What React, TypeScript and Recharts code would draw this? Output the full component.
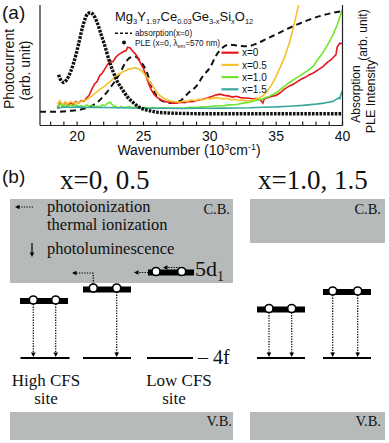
import React from 'react';
import { LineChart, Line, XAxis, YAxis, ComposedChart, ReferenceArea, ReferenceLine, Scatter } from 'recharts';

const SANS = '"Liberation Sans", Arial, sans-serif';
const SERIF = '"Liberation Serif", "Times New Roman", serif';

// ---------- panel (a) data ----------
const xTicks = [18, 19, 20, 21, 22, 23, 24, 25, 26, 27, 28, 29, 30, 31, 32, 33, 34, 35, 36, 37, 38, 39, 40];
const xLabelTicks = [20, 25, 30, 35, 40];
const yTicks = [0, 1, 2, 3, 4, 5, 6, 7];

const toPts = (a: number[][]) => a.map(([w, v]) => ({ w, v }));

const absorption = toPts([
  [17.2, 0.8], [18.5, 0.8], [19.0, 0.82], [19.5, 0.85], [20.2, 0.92], [21.0, 1.1], [21.6, 1.4], [22.1, 1.8],
  [22.6, 2.3], [23.2, 3.0], [23.6, 3.6], [24.0, 3.95], [24.4, 4.0], [24.8, 3.7], [25.2, 3.2], [25.6, 2.3],
  [26.0, 1.7], [26.5, 1.4], [27.2, 1.3], [27.8, 1.45], [28.4, 1.9], [29.0, 2.3], [29.5, 2.9], [30.0, 3.35],
  [30.5, 4.1], [31.0, 4.55], [31.5, 4.7], [32.0, 4.65], [32.8, 4.6], [33.5, 4.75], [34.2, 5.0], [35.0, 5.3],
  [35.8, 5.6], [36.7, 5.9], [37.5, 6.15], [38.5, 6.4], [39.3, 6.55], [40.0, 6.65],
]);

const ple = toPts([
  [18.6, 2.95], [18.8, 2.6], [19.0, 2.5], [19.2, 2.65], [19.5, 3.1], [19.8, 3.8], [20.1, 4.7], [20.4, 5.7],
  [20.6, 6.2], [20.8, 6.5], [21.0, 6.55], [21.2, 6.45], [21.5, 6.0], [21.8, 5.3], [22.1, 4.6], [22.4, 3.8],
  [22.7, 3.15], [23.0, 2.6], [23.4, 2.1], [23.8, 1.65], [24.2, 1.35], [24.6, 1.1], [25.0, 0.95], [25.5, 0.85],
  [26.0, 0.78], [27.0, 0.72], [28.0, 0.7], [30.0, 0.68], [32.0, 0.68], [35.0, 0.68], [38.0, 0.68], [40.0, 0.68],
]);

const pcX00 = toPts([
  [18.5, 1.0], [18.7, 1.3], [18.9, 1.15], [19.1, 1.35], [19.3, 1.2], [19.5, 1.3], [19.7, 1.25], [19.9, 1.4],
  [20.1, 1.3], [20.3, 1.45], [20.5, 1.4], [20.7, 1.6], [20.9, 1.75], [21.1, 2.1], [21.3, 2.4], [21.5, 2.55],
  [21.7, 2.9], [21.9, 3.05], [22.1, 3.3], [22.3, 3.55], [22.5, 3.75], [22.7, 3.7], [22.9, 3.95], [23.1, 4.1],
  [23.3, 4.2], [23.5, 4.3], [23.7, 4.35], [23.8, 4.55], [24.0, 4.5], [24.2, 4.3], [24.4, 4.15], [24.6, 3.9],
  [24.8, 3.6], [25.0, 3.3], [25.2, 2.85], [25.4, 2.4], [25.6, 2.05], [25.8, 1.8], [26.0, 1.65], [26.3, 1.5],
  [26.6, 1.4], [26.9, 1.35], [27.2, 1.3], [27.5, 1.3], [27.8, 1.35], [28.1, 1.32], [28.4, 1.4], [28.7, 1.38],
  [29.0, 1.45], [29.3, 1.5], [29.6, 1.55], [29.9, 1.62], [30.2, 1.7], [30.5, 1.78], [30.8, 1.82], [31.1, 1.75],
  [31.4, 1.72], [31.7, 1.65], [32.0, 1.7], [32.3, 1.62], [32.6, 1.6], [32.9, 1.58], [33.2, 1.55], [33.5, 1.57],
  [33.8, 1.5], [34.0, 1.3], [34.1, 1.55], [34.4, 1.62], [34.7, 1.7], [35.0, 1.75], [35.3, 1.9], [35.6, 2.1],
  [36.0, 2.3], [36.3, 2.4], [36.6, 2.55], [36.9, 2.7], [37.2, 2.8], [37.5, 2.95], [37.8, 3.05], [38.1, 3.2],
  [38.3, 3.3], [38.5, 3.4], [38.7, 3.55], [38.9, 3.7], [39.1, 3.8], [39.3, 3.95], [39.5, 4.1], [39.6, 4.55],
  [39.8, 4.78], [40.0, 4.75],
]);

const pcX05 = toPts([
  [18.5, 1.25], [18.7, 1.45], [18.9, 1.2], [19.1, 1.35], [19.3, 1.25], [19.5, 1.4], [19.7, 1.3], [19.9, 1.35],
  [20.1, 1.3], [20.3, 1.4], [20.5, 1.45], [20.7, 1.5], [20.9, 1.6], [21.1, 1.7], [21.3, 1.85], [21.5, 1.95],
  [21.7, 2.1], [21.9, 2.2], [22.1, 2.3], [22.3, 2.45], [22.5, 2.55], [22.7, 2.7], [22.9, 2.85], [23.1, 2.95],
  [23.3, 3.05], [23.5, 3.15], [23.7, 3.2], [23.9, 3.3], [24.1, 3.3], [24.3, 3.35], [24.5, 3.32], [24.7, 3.25],
  [24.9, 3.15], [25.1, 2.95], [25.3, 2.75], [25.5, 2.5], [25.7, 2.3], [25.9, 2.05], [26.1, 1.85], [26.3, 1.7],
  [26.5, 1.6], [26.8, 1.5], [27.1, 1.4], [27.4, 1.38], [27.7, 1.35], [28.0, 1.42], [28.3, 1.4], [28.6, 1.48],
  [28.9, 1.45], [29.2, 1.52], [29.5, 1.5], [29.8, 1.58], [30.1, 1.55], [30.4, 1.62], [30.7, 1.6], [31.0, 1.55],
  [31.3, 1.58], [31.6, 1.48], [31.9, 1.52], [32.2, 1.45], [32.5, 1.48], [32.8, 1.42], [33.1, 1.46], [33.4, 1.52],
  [33.7, 1.6], [34.0, 1.72], [34.3, 1.95], [34.6, 2.3], [34.9, 2.7], [35.2, 3.2], [35.6, 3.9], [36.0, 4.8],
  [36.3, 5.7], [36.6, 6.7], [36.9, 7.7], [37.2, 8.6],
]);

const pcX10 = toPts([
  [18.5, 1.1], [18.7, 1.25], [18.9, 1.15], [19.1, 1.2], [19.3, 1.1], [19.5, 1.18], [19.7, 1.12], [19.9, 1.22],
  [20.1, 1.1], [20.3, 1.15], [20.5, 1.08], [20.7, 1.2], [20.9, 1.12], [21.1, 1.18], [21.3, 1.05], [21.5, 1.12],
  [21.7, 1.08], [21.9, 1.2], [22.1, 1.15], [22.3, 1.3], [22.5, 1.35], [22.7, 1.15], [22.9, 1.1], [23.1, 1.02],
  [23.3, 1.1], [23.6, 1.05], [23.9, 1.1], [24.2, 1.03], [24.5, 1.08], [24.8, 1.02], [25.1, 1.06], [25.4, 1.0],
  [25.7, 1.04], [26.0, 1.0], [26.5, 1.03], [27.0, 1.0], [27.5, 1.02], [28.0, 1.0], [28.5, 1.05], [29.0, 1.04],
  [29.5, 1.08], [30.0, 1.1], [30.5, 1.15], [31.0, 1.15], [31.5, 1.2], [32.0, 1.22], [32.5, 1.3], [33.0, 1.35],
  [33.5, 1.45], [34.0, 1.55], [34.5, 1.7], [35.0, 1.9], [35.5, 2.2], [36.0, 2.5], [36.5, 2.75], [37.0, 3.0],
  [37.4, 3.2], [37.8, 3.45], [38.1, 3.8], [38.4, 4.1], [38.7, 4.45], [39.0, 4.85], [39.3, 5.3], [39.6, 5.85],
  [39.8, 6.3], [40.0, 6.75],
]);

const pcX15 = toPts([
  [18.5, 1.0], [19.0, 1.08], [19.5, 1.05], [20.0, 1.08], [20.5, 1.05], [21.0, 1.06], [22.0, 1.05], [23.0, 1.03],
  [24.0, 1.02], [25.0, 1.0], [26.0, 1.0], [27.0, 1.0], [28.0, 0.99], [29.0, 1.0], [30.0, 1.0], [31.0, 1.01],
  [32.0, 1.02], [33.0, 1.03], [34.0, 1.06], [35.0, 1.08], [36.0, 1.12], [37.0, 1.17], [38.0, 1.24], [38.6, 1.3],
  [39.0, 1.36], [39.3, 1.4], [39.5, 1.5], [39.7, 1.6], [39.8, 1.55], [39.9, 1.85], [40.0, 2.0],
]);

const pcSeries = [
  { name: 'x=0', color: '#e8161d', data: pcX00 },
  { name: 'x=0.5', color: '#f5c12a', data: pcX05 },
  { name: 'x=1.0', color: '#6ee62a', data: pcX10 },
  { name: 'x=1.5', color: '#3aa8a0', data: pcX15 },
];

// ---------- panel (b) data (diagram units: x = site position, y = energy) ----------
const bands = [
  { label: 'C.B.', x1: 10, x2: 233, y1: 160, y2: 244 },
  { label: 'C.B.', x1: 250, x2: 385, y1: 200, y2: 244 },
  { label: 'V.B.', x1: 10, x2: 233, y1: 3, y2: 31 },
  { label: 'V.B.', x1: 250, x2: 385, y1: 3, y2: 31 },
];
const levels5d = [
  { x1: 20, x2: 68, e: 142 },
  { x1: 83, x2: 131, e: 153.5 },
  { x1: 148, x2: 194, e: 170.5 },
  { x1: 257, x2: 305, e: 133.5 },
  { x1: 323, x2: 371, e: 151 },
];
const levels4f = [
  { x1: 20.5, x2: 69.5 },
  { x1: 83, x2: 131 },
  { x1: 147, x2: 193 },
  { x1: 257, x2: 305 },
  { x1: 323, x2: 371 },
];
const e4f = 85;
const electrons = [
  { x: 33.3, y: 143 }, { x: 55.7, y: 143 },
  { x: 93.3, y: 155 }, { x: 116.7, y: 155 },
  { x: 156, y: 171.5 }, { x: 181.7, y: 171.5 },
  { x: 269, y: 134.5 }, { x: 291.7, y: 134.5 },
  { x: 332.7, y: 152 }, { x: 357.7, y: 152 },
];
const dottedArrows = [
  { x1: 33.3, y1: 139, x2: 33.3, y2: 89 },
  { x1: 55.7, y1: 139, x2: 55.7, y2: 89 },
  { x1: 116.7, y1: 151, x2: 116.7, y2: 89 },
  { x1: 269, y1: 130.5, x2: 269, y2: 89 },
  { x1: 291.7, y1: 130.5, x2: 291.7, y2: 89 },
  { x1: 332.7, y1: 148, x2: 332.7, y2: 89 },
  { x1: 357.7, y1: 148, x2: 357.7, y2: 89 },
  { x1: 93.3, y1: 159, x2: 93.3, y2: 170 },
  { x1: 93.3, y1: 170, x2: 75, y2: 170 },
  { x1: 151, y1: 170.5, x2: 137, y2: 170.5 },
  { x1: 180, y1: 175.5, x2: 166, y2: 175.5 },
  { x1: 33, y1: 236, x2: 18, y2: 236 },
];
const solidArrows = [{ x1: 32, y1: 200, x2: 32, y2: 190 }];
const arrowHeads = [
  { x: 33.3, y: 86, dir: 'down' }, { x: 55.7, y: 86, dir: 'down' }, { x: 116.7, y: 86, dir: 'down' },
  { x: 269, y: 86, dir: 'down' }, { x: 291.7, y: 86, dir: 'down' },
  { x: 332.7, y: 86, dir: 'down' }, { x: 357.7, y: 86, dir: 'down' },
  { x: 72, y: 170, dir: 'left' }, { x: 134, y: 170.5, dir: 'left' }, { x: 163, y: 175.5, dir: 'left' },
  { x: 15, y: 236, dir: 'left' }, { x: 32, y: 186, dir: 'down' },
];

// text parts: [text, isSubscript]
const titleParts: [string, boolean][] = [
  ['Mg', false], ['3', true], ['Y', false], ['1.97', true], ['Ce', false], ['0.03', true],
  ['Ge', false], ['3-x', true], ['Si', false], ['x', true], ['O', false], ['12', true],
];
const pleLegendParts: [string, boolean][] = [['PLE (x=0, λ', false], ['em', true], ['=570 nm)', false]];

const ArrowHead = (p: any) => {
  const { cx, cy, payload } = p;
  const d = payload.dir === 'down'
    ? `M${cx},${cy} L${cx - 2.3},${cy - 4.5} L${cx + 2.3},${cy - 4.5} Z`
    : `M${cx},${cy} L${cx + 4.5},${cy - 2.3} L${cx + 4.5},${cy + 2.3} Z`;
  return <path d={d} fill="#000" />;
};
const Electron = (p: any) => (
  <circle cx={p.cx} cy={p.cy} r={4} fill="#fff" stroke="#000" strokeWidth={1.6} />
);

const XTick = (p: any) => {
  const { x, y, payload } = p;
  if (!xLabelTicks.includes(payload.value)) return <g />;
  return (
    <text x={x} y={y} dy={10} textAnchor="middle" fontSize={14} fontFamily={SANS} fill="#111">
      {payload.value}
    </text>
  );
};

const subTspans = (parts: [string, boolean][], subSize: number, d: number) => {
  let prev = false;
  return parts.map(([t, sub], i) => {
    const dy = sub && !prev ? d : !sub && prev ? -d : 0;
    prev = sub;
    return (
      <tspan key={i} dy={dy} fontSize={sub ? subSize : undefined}>{t}</tspan>
    );
  });
};

export default function App() {
  return (
    <div style={{ position: 'absolute', left: 0, top: 0, width: 389, height: 443, background: '#fff', overflow: 'hidden' }}>
      <div style={{ position: 'absolute', left: 0, top: 0 }}>
        <LineChart width={389} height={165} margin={{ top: 5, right: 0, left: 0, bottom: 0 }}>
          <XAxis xAxisId="b" type="number" dataKey="w" domain={[17.2, 40]} allowDataOverflow ticks={xTicks}
            interval={0} orientation="bottom" height={39.5} tickSize={-4} tickMargin={9} tick={<XTick />}
            stroke="#222" strokeWidth={1.2} />
          <XAxis xAxisId="t" type="number" dataKey="w" domain={[17.2, 40]} allowDataOverflow ticks={xTicks}
            interval={0} orientation="top" height={0} tickSize={-4} tick={false} stroke="#222" strokeWidth={1.2} />
          <YAxis yAxisId="l" type="number" domain={[0, 7]} allowDataOverflow ticks={yTicks} interval={0}
            orientation="left" width={40} tickSize={-5} tick={false} stroke="#222" strokeWidth={1.2} />
          <YAxis yAxisId="r" type="number" domain={[0, 7]} allowDataOverflow ticks={yTicks} interval={0}
            orientation="right" width={46.5} tickSize={-5} tick={false} stroke="#222" strokeWidth={1.2} />
          <Line xAxisId="b" yAxisId="l" data={absorption} dataKey="v" type="monotone" stroke="#111"
            strokeWidth={2} strokeDasharray="6 4" dot={false} isAnimationActive={false} />
          {pcSeries.map((s) => (
            <Line key={s.name} xAxisId="b" yAxisId="l" data={s.data} dataKey="v" type="linear" stroke={s.color}
              strokeWidth={1.6} dot={false} isAnimationActive={false} />
          ))}
          <Line xAxisId="b" yAxisId="l" data={ple} dataKey="v" type="monotone" stroke="#111"
            strokeWidth={3.4} strokeDasharray="2.6 1.2" dot={false} isAnimationActive={false} />
        </LineChart>
      </div>

      <div style={{ position: 'absolute', left: 0, top: 160 }}>
        <ComposedChart width={389} height={283} margin={{ top: 0, right: 0, left: 0, bottom: 0 }}>
          <XAxis type="number" dataKey="x" domain={[0, 389]} hide allowDataOverflow />
          <YAxis type="number" dataKey="y" domain={[0, 283]} hide allowDataOverflow />
          {bands.map((b, i) => (
            <ReferenceArea key={'b' + i} x1={b.x1} x2={b.x2} y1={b.y1} y2={b.y2} fill="#b6baba"
              fillOpacity={1} stroke="none" ifOverflow="visible" />
          ))}
          {levels4f.map((l, i) => (
            <ReferenceLine key={'f' + i} segment={[{ x: l.x1, y: e4f }, { x: l.x2, y: e4f }]} stroke="#000"
              strokeWidth={2} ifOverflow="visible" />
          ))}
          {dottedArrows.map((a, i) => (
            <ReferenceLine key={'a' + i} segment={[{ x: a.x1, y: a.y1 }, { x: a.x2, y: a.y2 }]} stroke="#000"
              strokeWidth={1.2} strokeDasharray="1.3 1.3" ifOverflow="visible" />
          ))}
          {solidArrows.map((a, i) => (
            <ReferenceLine key={'s' + i} segment={[{ x: a.x1, y: a.y1 }, { x: a.x2, y: a.y2 }]} stroke="#000"
              strokeWidth={1.2} ifOverflow="visible" />
          ))}
          {levels5d.map((l, i) => (
            <ReferenceLine key={'d' + i} segment={[{ x: l.x1, y: l.e }, { x: l.x2, y: l.e }]} stroke="#000"
              strokeWidth={6} ifOverflow="visible" />
          ))}
          <Scatter data={arrowHeads} shape={<ArrowHead />} isAnimationActive={false} />
          <Scatter data={electrons} shape={<Electron />} isAnimationActive={false} />
        </ComposedChart>
      </div>

      <svg width={389} height={443} style={{ position: 'absolute', left: 0, top: 0, pointerEvents: 'none' }}>
        {/* panel (a) texts */}
        <text x={2} y={19} fontSize={19} fontFamily={SANS} fill="#111">(a)</text>
        <text x={115} y={21} fontSize={13} fontFamily={SANS} fill="#111">
          {subTspans(titleParts, 7.5, 3)}
        </text>
        <line x1={115} x2={132} y1={33.3} y2={33.3} stroke="#111" strokeWidth={1.6} strokeDasharray="3 2" />
        <text x={135} y={36} fontSize={8.2} fontFamily={SANS} fill="#111">absorption(x=0)</text>
        <circle cx={124} cy={42.5} r={2} fill="#111" />
        <text x={135} y={45.5} fontSize={8.2} fontFamily={SANS} fill="#111">
          {subTspans(pleLegendParts, 5.5, 2)}
        </text>
        {pcSeries.map((s, i) => (
          <g key={s.name}>
            <line x1={221.5} x2={238.5} y1={52.7 + i * 12.2} y2={52.7 + i * 12.2} stroke={s.color} strokeWidth={2.2} />
            <text x={242} y={56.3 + i * 12.2} fontSize={10} fontFamily={SANS} fill="#111">{s.name}</text>
          </g>
        ))}
        <text transform="translate(8.5,69) rotate(-90)" textAnchor="middle" dominantBaseline="central"
          fontSize={14} fontFamily={SANS} fill="#111">Photocurrent</text>
        <text transform="translate(25,70.5) rotate(-90)" textAnchor="middle" dominantBaseline="central"
          fontSize={14} fontFamily={SANS} fill="#111">(arb. unit)</text>
        <text transform="translate(356,94) rotate(-90)" textAnchor="middle" dominantBaseline="central"
          fontSize={12} fontFamily={SANS} fill="#111">Absorption</text>
        <text transform="translate(363,35) rotate(-90)" textAnchor="middle" dominantBaseline="central"
          fontSize={12} fontFamily={SANS} fill="#111">(arb. unit)</text>
        <text transform="translate(371,96.5) rotate(-90)" textAnchor="middle" dominantBaseline="central"
          fontSize={12.5} fontFamily={SANS} fill="#111">PLE Intensity</text>
        <text x={189} y={155} textAnchor="middle" fontSize={14} fontFamily={SANS} fill="#111">
          <tspan>Wavenumber (10</tspan><tspan fontSize={9} dy={-5}>3</tspan><tspan dy={5}>cm</tspan>
          <tspan fontSize={9} dy={-5}>-1</tspan><tspan dy={5}>)</tspan>
        </text>

        {/* panel (b) texts */}
        <text x={2} y={183} fontSize={19} fontFamily={SANS} fill="#111">(b)</text>
        <text x={60} y={189} fontSize={27} fontFamily={SERIF} fill="#111">x=0, 0.5</text>
        <text x={258} y={189} fontSize={27} fontFamily={SERIF} fill="#111">x=1.0, 1.5</text>
        <text x={230} y={214} textAnchor="end" fontSize={14.5} fontFamily={SERIF} fill="#111">C.B.</text>
        <text x={381} y={214} textAnchor="end" fontSize={14.5} fontFamily={SERIF} fill="#111">C.B.</text>
        <text x={232} y={426} textAnchor="end" fontSize={14.5} fontFamily={SERIF} fill="#111">V.B.</text>
        <text x={381} y={426} textAnchor="end" fontSize={14.5} fontFamily={SERIF} fill="#111">V.B.</text>
        <text x={47} y={212} fontSize={16.5} fontFamily={SERIF} fill="#111">photoionization</text>
        <text x={47} y={229.5} fontSize={16.5} fontFamily={SERIF} fill="#111">thermal ionization</text>
        <text x={47} y={254} fontSize={16.5} fontFamily={SERIF} fill="#111">photoluminescence</text>
        <text x={195} y={276} fontSize={22} fontFamily={SERIF} fill="#111">
          <tspan>5d</tspan><tspan fontSize={14} dy={5}>1</tspan>
        </text>
        <text x={198} y={364} fontSize={20} fontFamily={SERIF} fill="#111">– 4f</text>
        <text x={46} y={386} textAnchor="middle" fontSize={17} fontFamily={SERIF} fill="#111">High CFS</text>
        <text x={46} y={404} textAnchor="middle" fontSize={17} fontFamily={SERIF} fill="#111">site</text>
        <text x={179} y={386} textAnchor="middle" fontSize={17} fontFamily={SERIF} fill="#111">Low CFS</text>
        <text x={174} y={404} textAnchor="middle" fontSize={17} fontFamily={SERIF} fill="#111">site</text>
      </svg>
    </div>
  );
}
